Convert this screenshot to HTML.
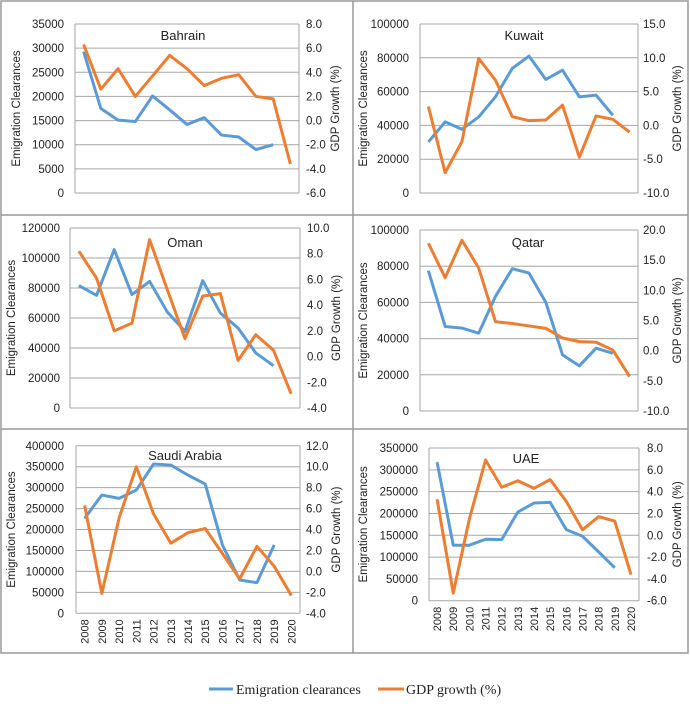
<!DOCTYPE html>
<html><head><meta charset="utf-8"><style>
body{margin:0;background:#fff;width:690px;height:699px;overflow:hidden}
svg text{font-family:"Liberation Sans",sans-serif;fill:#222}
</style></head><body>
<svg id="c" width="690" height="699" xmlns="http://www.w3.org/2000/svg"></svg>
<script>
const years=["2008","2009","2010","2011","2012","2013","2014","2015","2016","2017","2018","2019","2020"];
const bahrainEmig=[29300,17500,15100,14800,20100,17200,14200,15600,12000,11600,9000,10000];
const bahrainGdp=[6.3,2.6,4.3,2.0,3.7,5.4,4.3,2.9,3.5,3.8,2.0,1.8,-3.6];
const kuwaitEmig=[30200,42100,37700,45000,56900,73700,81000,67200,72700,56900,57900,46000];
const kuwaitGdp=[2.8,-7.0,-2.4,9.9,6.7,1.3,0.7,0.8,3.0,-4.7,1.4,0.9,-1.0];
const omanEmig=[81600,75100,105600,75600,84400,64000,51100,84900,63300,53300,36700,28200];
const omanGdp=[8.2,6.1,2.0,2.6,9.1,5.2,1.4,4.7,4.9,-0.3,1.7,0.5,-2.9];
const qatarEmig=[77500,46700,45800,43000,63300,78600,76200,60100,31000,24900,34700,31900];
const qatarGdp=[17.8,12.1,18.3,13.7,4.8,4.5,4.1,3.7,2.1,1.5,1.4,0.1,-4.3];
const saudiEmig=[226700,282400,274400,294300,356400,354000,330000,308600,163000,79500,73200,163000];
const saudiGdp=[6.3,-2.1,5.1,10.0,5.5,2.7,3.7,4.1,1.7,-0.7,2.4,0.5,-2.3];
const uaeEmig=[317500,127200,127200,140900,140100,203300,223900,225400,162900,147700,111900,75400];
const uaeGdp=[3.3,-5.3,1.5,6.9,4.4,5.0,4.3,5.1,3.1,0.5,1.7,1.3,-3.6];

const NS="http://www.w3.org/2000/svg";
const svg=document.getElementById('c');
function el(t,a,p){const e=document.createElementNS(NS,t);for(const k in a)e.setAttribute(k,a[k]);(p||svg).appendChild(e);return e;}

const fr=el('g',{});


el('rect',{x:1,y:1,width:687,height:652,fill:'none',stroke:'#999','stroke-width':1.5},fr);
el('line',{x1:353,y1:1,x2:353,y2:653,stroke:'#999','stroke-width':1.5},fr);
el('line',{x1:1,y1:215,x2:688,y2:215,stroke:'#999','stroke-width':1.5},fr);
el('line',{x1:1,y1:429,x2:688,y2:429,stroke:'#999','stroke-width':1.5},fr);

const panels=[
 {name:'bahrain',title:'Bahrain',emig:bahrainEmig,gdp:bahrainGdp,x0:75,x1:299,y0:24,y1:193,lmax:35000,lstep:5000,rmin:-6,rmax:8,rstep:2,rdec:1,tx:183,ty:40,lt:64,rt:306,lat:20,rat:339,yrs:false},
 {name:'kuwait',title:'Kuwait',emig:kuwaitEmig,gdp:kuwaitGdp,x0:420,x1:638,y0:24,y1:193,lmax:100000,lstep:20000,rmin:-10,rmax:15,rstep:5,rdec:1,tx:524,ty:40,lt:409,rt:643,lat:367,rat:681,yrs:false},
 {name:'oman',title:'Oman',emig:omanEmig,gdp:omanGdp,x0:70,x1:300,y0:228,y1:408,lmax:120000,lstep:20000,rmin:-4,rmax:10,rstep:2,rdec:1,tx:185,ty:247,lt:60,rt:307,lat:15,rat:340,yrs:false},
 {name:'qatar',title:'Qatar',emig:qatarEmig,gdp:qatarGdp,x0:420,x1:638,y0:230,y1:411,lmax:100000,lstep:20000,rmin:-10,rmax:20,rstep:5,rdec:1,tx:528,ty:247,lt:409,rt:643,lat:367,rat:681,yrs:false},
 {name:'saudi-arabia',title:'Saudi Arabia',emig:saudiEmig,gdp:saudiGdp,x0:76,x1:300,y0:445.8,y1:613.3,lmax:400000,lstep:50000,rmin:-4,rmax:12,rstep:2,rdec:1,tx:185,ty:460,lt:64,rt:306,lat:15,rat:340,yrs:true},
 {name:'uae',title:'UAE',emig:uaeEmig,gdp:uaeGdp,x0:429,x1:639,y0:448,y1:600.7,lmax:350000,lstep:50000,rmin:-6,rmax:8,rstep:2,rdec:1,tx:526,ty:463,lt:418,rt:647,lat:367,rat:681,yrs:true}
];

panels.forEach(p=>{
 const g=el('g',{});
 
 
 const n=years.length, step=(p.x1-p.x0)/n;
 const xs=i=>p.x0+step*(i+0.5);
 const yl=v=>p.y1-(v/p.lmax)*(p.y1-p.y0);
 const yr=v=>p.y1-((v-p.rmin)/(p.rmax-p.rmin))*(p.y1-p.y0);
 for(let v=0;v<=p.lmax+1e-6;v+=p.lstep){
  const y=yl(v);
  const gl=el('line',{x1:p.x0,y1:y,x2:p.x1,y2:y,stroke:'#a6a6a6','stroke-width':1},g);
  
  
  const t=el('text',{x:p.lt,y:y+4,'text-anchor':'end','font-size':11.5},g);
  t.textContent=String(v);
  
  
 }
 for(let v=p.rmin;v<=p.rmax+1e-6;v+=p.rstep){
  const y=yr(v);
  const t=el('text',{x:p.rt,y:y+4,'text-anchor':'start','font-size':11.5},g);
  t.textContent=v.toFixed(p.rdec);
  
  
 }
 el('line',{x1:p.x0,y1:p.y0,x2:p.x0,y2:p.y1,stroke:'#a6a6a6'},g);
 el('line',{x1:p.x1,y1:p.y0,x2:p.x1,y2:p.y1,stroke:'#a6a6a6'},g);
 const lt=el('text',{x:p.lat,y:(p.y0+p.y1)/2,'text-anchor':'middle','font-size':11.5,transform:`rotate(-90 ${p.lat} ${(p.y0+p.y1)/2})`},g);
 lt.textContent='Emigration Clearances';
 
 
 const rt=el('text',{x:p.rat,y:(p.y0+p.y1)/2,'text-anchor':'middle','font-size':11.5,transform:`rotate(-90 ${p.rat} ${(p.y0+p.y1)/2})`},g);
 rt.textContent='GDP Growth (%)';
 
 
 const tt=el('text',{x:p.tx,y:p.ty,'text-anchor':'middle','font-size':13},g);
 tt.textContent=p.title;
 
 
 if(p.yrs){years.forEach((yv,i)=>{
  const x=xs(i)+4, y=p.y1+6;
  const t=el('text',{x:x,y:y,'text-anchor':'end','font-size':11,transform:`rotate(-90 ${x} ${y})`},g);
  t.textContent=yv;
  
  
 });}
 const b=el('polyline',{points:p.emig.map((v,i)=>xs(i)+','+yl(v)).join(' '),fill:'none',stroke:'#5b9bd5','stroke-width':3,'stroke-linejoin':'round'},g);
 
 
 const o=el('polyline',{points:p.gdp.map((v,i)=>xs(i)+','+yr(v)).join(' '),fill:'none',stroke:'#ed7d31','stroke-width':3,'stroke-linejoin':'round'},g);
 
 
});

const lg=el('g',{});


el('line',{x1:209,y1:689,x2:233,y2:689,stroke:'#5b9bd5','stroke-width':3},lg);
const l1=el('text',{x:236,y:694,'font-size':14,style:'font-family:"Liberation Serif",serif'},lg);
l1.textContent='Emigration clearances';


el('line',{x1:378,y1:689,x2:404,y2:689,stroke:'#ed7d31','stroke-width':3},lg);
const l2=el('text',{x:406,y:694,'font-size':14,style:'font-family:"Liberation Serif",serif'},lg);
l2.textContent='GDP growth (%)';


</script>
</body></html>
